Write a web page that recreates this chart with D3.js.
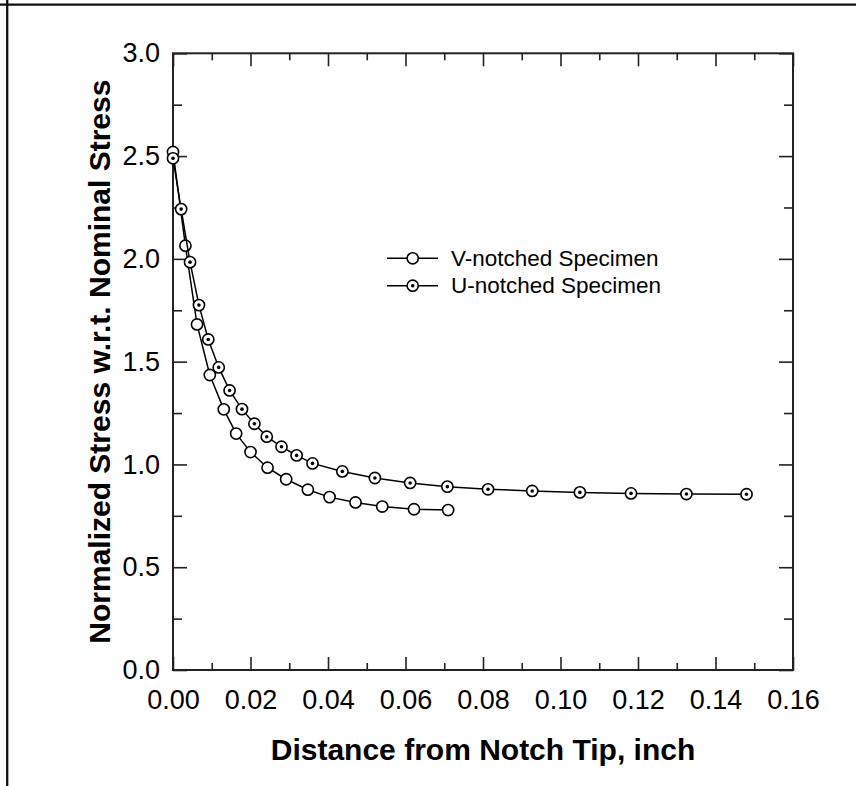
<!DOCTYPE html>
<html>
<head>
<meta charset="utf-8">
<script src="https://cdn.jsdelivr.net/npm/d3@7"></script>
<style>
  html, body { margin: 0; padding: 0; background: #fff; }
  svg { display: block; }
  text { font-family: "Liberation Sans", Arial, Helvetica, sans-serif; fill: #000; }
</style>
</head>
<body>
<svg id="chart" width="856" height="786"></svg>
<script>
// ---- data ----
const vX = [0, 0.0032, 0.0062, 0.0095, 0.0131, 0.0163, 0.0200, 0.0244, 0.0292, 0.0348, 0.0404, 0.0471, 0.0540, 0.0622, 0.0710];
const vY = [2.52, 2.064, 1.681, 1.435, 1.268, 1.150, 1.060, 0.984, 0.928, 0.877, 0.841, 0.815, 0.795, 0.782, 0.778];
const uX = [0, 0.0021, 0.0044, 0.0067, 0.0091, 0.0118, 0.0146, 0.0178, 0.0210, 0.0242, 0.0280, 0.0319, 0.0360, 0.0437, 0.0521, 0.0612, 0.0708, 0.0813, 0.0927, 0.1050, 0.1182, 0.1325, 0.1480];
const uY = [2.489, 2.242, 1.984, 1.775, 1.608, 1.472, 1.360, 1.269, 1.198, 1.135, 1.086, 1.044, 1.005, 0.966, 0.934, 0.910, 0.892, 0.879, 0.871, 0.864, 0.859, 0.856, 0.855];
const seriesNames = ["V-notched Specimen", "U-notched Specimen"];
const xMajorTicks = [0, 0.02, 0.04, 0.06, 0.08, 0.10, 0.12, 0.14, 0.16];
const xMinorTicks = [0.01, 0.03, 0.05, 0.07, 0.09, 0.11, 0.13, 0.15];
const yMajorTicks = [0, 0.5, 1.0, 1.5, 2.0, 2.5, 3.0];
const yMinorTicks = [0.25, 0.75, 1.25, 1.75, 2.25, 2.75];
const xTitle = "Distance from Notch Tip, inch";
const yTitle = "Normalized Stress w.r.t. Nominal Stress";

// ---- layout ----
const svg = d3.select("#chart");
const L = 173, R = 793, T = 53.3, B = 670;
const x = d3.scaleLinear().domain([0, 0.16]).range([L, R]);
const y = d3.scaleLinear().domain([0, 3]).range([B, T]);
const axisColor = "#222";

// outer frame (top and left edges)
svg.append("line").attr("x1", 0).attr("x2", 856).attr("y1", 4.7).attr("y2", 4.7)
  .attr("stroke", "#111").attr("stroke-width", 2.3);
svg.append("line").attr("x1", 7.2).attr("x2", 7.2).attr("y1", 0).attr("y2", 786)
  .attr("stroke", "#111").attr("stroke-width", 2.3);

function styleAxis(g) {
  g.select(".domain").remove();
  g.selectAll(".tick line").attr("stroke", axisColor).attr("stroke-width", 1.6);
  g.selectAll(".tick text").attr("font-family", '"Liberation Sans", Arial, sans-serif').attr("fill", "#000");
}

// bottom axis (major, with labels)
svg.append("g").attr("transform", `translate(0,${B})`)
  .call(d3.axisBottom(x).tickValues(xMajorTicks).tickSize(-13).tickPadding(20)
    .tickFormat(d3.format(".2f")))
  .call(styleAxis)
  .call(g => g.selectAll("text").attr("font-size", 27));
svg.append("g").attr("transform", `translate(0,${B})`)
  .call(d3.axisBottom(x).tickValues(xMinorTicks).tickSize(-7).tickFormat(""))
  .call(styleAxis);
// top axis
svg.append("g").attr("transform", `translate(0,${T})`)
  .call(d3.axisTop(x).tickValues(xMajorTicks).tickSize(-13).tickFormat(""))
  .call(styleAxis);
svg.append("g").attr("transform", `translate(0,${T})`)
  .call(d3.axisTop(x).tickValues(xMinorTicks).tickSize(-7).tickFormat(""))
  .call(styleAxis);
// left axis
svg.append("g").attr("transform", `translate(${L},0)`)
  .call(d3.axisLeft(y).tickValues(yMajorTicks).tickSize(-14).tickPadding(13)
    .tickFormat(d3.format(".1f")))
  .call(styleAxis)
  .call(g => g.selectAll("text").attr("font-size", 27));
svg.append("g").attr("transform", `translate(${L},0)`)
  .call(d3.axisLeft(y).tickValues(yMinorTicks).tickSize(-9).tickFormat(""))
  .call(styleAxis);
// right axis
svg.append("g").attr("transform", `translate(${R},0)`)
  .call(d3.axisRight(y).tickValues(yMajorTicks).tickSize(-14).tickFormat(""))
  .call(styleAxis);
svg.append("g").attr("transform", `translate(${R},0)`)
  .call(d3.axisRight(y).tickValues(yMinorTicks).tickSize(-9).tickFormat(""))
  .call(styleAxis);

// plot frame
svg.append("rect").attr("x", L).attr("y", T).attr("width", R - L).attr("height", B - T)
  .attr("fill", "none").attr("stroke", axisColor).attr("stroke-width", 2);

// axis titles
svg.append("text").attr("x", (L + R) / 2).attr("y", 759.5).attr("text-anchor", "middle")
  .attr("font-size", 30).attr("font-weight", "bold").text(xTitle);
svg.append("text").attr("transform", `translate(110,${(T + B) / 2}) rotate(-90)`)
  .attr("text-anchor", "middle").attr("font-size", 30).attr("font-weight", "bold").text(yTitle);

// series
const vData = vX.map((d, i) => [d, vY[i]]);
const uData = uX.map((d, i) => [d, uY[i]]);
const line = d3.line().x(d => x(d[0])).y(d => y(d[1]));
const r = 5.6;

function drawSeries(data, dotted) {
  svg.append("path").datum(data).attr("d", line)
    .attr("fill", "none").attr("stroke", "#000").attr("stroke-width", 1.5);
  const g = svg.append("g");
  g.selectAll("circle.m").data(data).join("circle").attr("class", "m")
    .attr("cx", d => x(d[0])).attr("cy", d => y(d[1])).attr("r", r)
    .attr("fill", "#fff").attr("stroke", "#000").attr("stroke-width", 1.6);
  if (dotted) {
    g.selectAll("circle.d").data(data).join("circle").attr("class", "d")
      .attr("cx", d => x(d[0])).attr("cy", d => y(d[1])).attr("r", 1.8).attr("fill", "#000");
  }
}
drawSeries(vData, false);
drawSeries(uData, true);

// legend
const legY = [258.3, 285.7];
seriesNames.forEach((name, i) => {
  const g = svg.append("g");
  g.append("line").attr("x1", 387).attr("x2", 438).attr("y1", legY[i]).attr("y2", legY[i])
    .attr("stroke", "#000").attr("stroke-width", 1.5);
  g.append("circle").attr("cx", 412.7).attr("cy", legY[i]).attr("r", r)
    .attr("fill", "#fff").attr("stroke", "#000").attr("stroke-width", 1.6);
  if (i === 1) g.append("circle").attr("cx", 412.7).attr("cy", legY[i]).attr("r", 1.8).attr("fill", "#000");
  g.append("text").attr("x", 451).attr("y", legY[i] + 7.6).attr("font-size", 22.5).text(name);
});
</script>
</body>
</html>
